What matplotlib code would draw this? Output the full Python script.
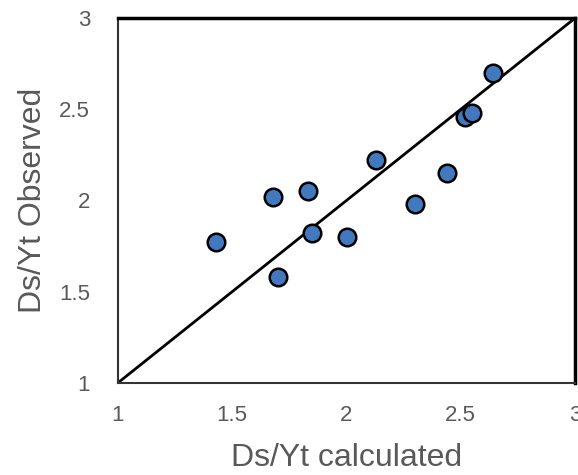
import numpy as np
import matplotlib.pyplot as plt

plt.rcParams['font.family'] = ['Liberation Sans', 'DejaVu Sans']

# observed vs calculated Ds/Yt
calc = [1.43, 1.68, 1.83, 1.70, 1.85, 2.00, 2.13, 2.30, 2.44, 2.52, 2.55, 2.64]
obs = [1.77, 2.02, 2.05, 1.58, 1.82, 1.80, 2.22, 1.98, 2.15, 2.46, 2.48, 2.70]
ticks = [1, 1.5, 2, 2.5, 3]
tick_labels = ['1', '1.5', '2', '2.5', '3']

fig = plt.figure(figsize=(5.78, 4.75), dpi=100)
ax = fig.add_axes([0.204, 0.194, 0.791, 0.768])

ax.plot([1, 3], [1, 3], color='black', lw=2)
ax.scatter(calc, obs, s=160, color='#4178BE', edgecolor='black', linewidth=1.8, zorder=3)

ax.set_xlim(1, 3)
ax.set_ylim(1, 3)
ax.set_xticks(ticks)
ax.set_xticklabels(tick_labels)
ax.set_yticks(ticks)
ax.set_yticklabels(tick_labels)
ax.tick_params(length=0, labelsize=16, labelcolor='#595959', pad=16)
ax.tick_params(axis='y', pad=20)

for side in ['top', 'right']:
    ax.spines[side].set_linewidth(2.5)
for side in ['left', 'bottom']:
    ax.spines[side].set_linewidth(1.5)
    ax.spines[side].set_color('#333333')

ax.set_xlabel('Ds/Yt calculated', fontsize=23, color='#595959', labelpad=12)
ax.set_ylabel('Ds/Yt Observed', fontsize=23, color='#595959', labelpad=8)

fig.savefig('out.png', dpi=100)
